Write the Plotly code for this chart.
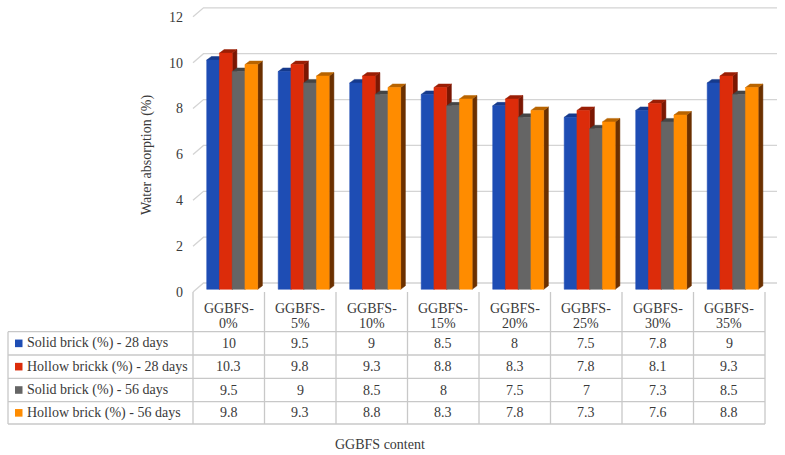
import plotly.graph_objects as go

# ---------------- data ----------------
categories = ["GGBFS-0%", "GGBFS-5%", "GGBFS-10%", "GGBFS-15%",
              "GGBFS-20%", "GGBFS-25%", "GGBFS-30%", "GGBFS-35%"]
series_names = ["Solid brick (%) - 28 days", "Hollow brickk (%) - 28 days",
                "Solid brick (%) - 56 days", "Hollow brick (%) - 56 days"]
solid_28 = [10, 9.5, 9, 8.5, 8, 7.5, 7.8, 9]
hollow_28 = [10.3, 9.8, 9.3, 8.8, 8.3, 7.8, 8.1, 9.3]
solid_56 = [9.5, 9, 8.5, 8, 7.5, 7, 7.3, 8.5]
hollow_56 = [9.8, 9.3, 8.8, 8.3, 7.8, 7.3, 7.6, 8.8]
y_ticks = [0, 2, 4, 6, 8, 10, 12]

series_values = [solid_28, hollow_28, solid_56, hollow_56]

# ---------------- style ----------------
W, H = 785, 455
FONT = "Liberation Serif"
TXT = "#3a3a3a"
front_colors = ["#1E4DB4", "#DC2C0A", "#656565", "#FF8C00"]
top_colors = ["#163A8C", "#9A1E05", "#454545", "#B86400"]
side_colors = ["#0F2764", "#7A1703", "#333333", "#6B3000"]

PXX, X0PX = 71.5, 228.75      # px per category unit, px of category 0 centre
PXY, Y0PX = 22.93, 289.3      # px per value unit, px of value 0 (bar base)
x_range = [(0 - X0PX) / PXX, (W - X0PX) / PXX]
y_range = [(Y0PX - H) / PXY, Y0PX / PXY]

GX0 = -22.05 / PXX   # group start offset
BW = 12.75 / PXX     # bar width
DX = 4.7 / PXX       # depth x
DY = 3.5 / PXY       # depth y

fig = go.Figure()

# gridlines (3D wall style)
gx, gy = [], []
front_dy = -2.7 / PXY
back_dy = 6.3 / PXY
for v in y_ticks:
    gx += [-0.5, (203.5 - X0PX) / PXX, (777 - X0PX) / PXX, None]
    gy += [v + front_dy, v + back_dy, v + back_dy, None]
fig.add_trace(go.Scatter(x=gx, y=gy, mode="lines",
                         line=dict(color="#d4d4d4", width=1.3),
                         hoverinfo="skip", showlegend=False))

# 3D bars
n = len(categories)
for s, vals in enumerate(series_values):
    fx, fy, tx, ty, sx, sy = [], [], [], [], [], []
    for i in range(n):
        v = vals[i]
        xl = i + GX0 + s * BW
        xr = xl + BW
        sx += [xr, xr + DX, xr + DX, xr, xr, None]
        sy += [0, DY, v + DY, v, 0, None]
        tx += [xl, xr, xr + DX, xl + DX, xl, None]
        ty += [v, v, v + DY, v + DY, v, None]
        fx += [xl, xr, xr, xl, xl, None]
        fy += [0, 0, v, v, 0, None]
    for xs, ys, col in ((sx, sy, side_colors[s]), (tx, ty, top_colors[s]),
                        (fx, fy, front_colors[s])):
        fig.add_trace(go.Scatter(x=xs, y=ys, mode="lines", fill="toself",
                                 fillcolor=col, line=dict(color=col, width=0.5),
                                 hoverinfo="skip", showlegend=False,
                                 name=series_names[s]))

# ---------------- table ----------------
def px(x):
    return x / W


def py(y):
    return 1 - y / H


def label(x, y, text, xanchor="center", angle=0):
    return dict(x=px(x), y=py(y), xref="paper", yref="paper", text=text,
                showarrow=False, xanchor=xanchor, yanchor="middle",
                textangle=angle, font=dict(family=FONT, size=14, color=TXT))


shapes = []
annotations = []
LC = "#c8c8c8"
LW = 1.3
col_edges = [193 + PXX * i for i in range(n + 1)]
header_top = 292
row_lines = [331.7, 355, 378.3, 401.7, 424]
left_x = 8

for xe in col_edges:
    shapes.append(dict(type="line", xref="paper", yref="paper",
                       x0=px(xe), x1=px(xe), y0=py(header_top), y1=py(row_lines[-1]),
                       line=dict(color=LC, width=LW)))
shapes.append(dict(type="line", xref="paper", yref="paper",
                   x0=px(left_x), x1=px(left_x), y0=py(row_lines[0]), y1=py(row_lines[-1]),
                   line=dict(color=LC, width=LW)))
for yl in row_lines:
    shapes.append(dict(type="line", xref="paper", yref="paper",
                       x0=px(left_x), x1=px(col_edges[-1]), y0=py(yl), y1=py(yl),
                       line=dict(color=LC, width=LW)))

# header
for i, c in enumerate(categories):
    cx = (col_edges[i] + col_edges[i + 1]) / 2
    head, pct = c.split("-")
    annotations.append(label(cx, 308, head + "-"))
    annotations.append(label(cx, 323, pct))

# rows
for r, (name, vals) in enumerate(zip(series_names, series_values)):
    cy = (row_lines[r] + row_lines[r + 1]) / 2
    shapes.append(dict(type="rect", xref="paper", yref="paper",
                       x0=px(15), x1=px(22.5), y0=py(cy - 3.8), y1=py(cy + 3.8),
                       fillcolor=front_colors[r], line=dict(width=0)))
    annotations.append(label(25, cy, name, xanchor="left"))
    for i, v in enumerate(vals):
        cx = (col_edges[i] + col_edges[i + 1]) / 2
        annotations.append(label(cx, cy, f"{v:g}"))

# axis titles
annotations.append(label(147, 155, "Water absorption (%)", angle=-90))
annotations.append(label(380, 444, "GGBFS content"))

fig.update_layout(
    width=W, height=H, margin=dict(l=0, r=0, t=0, b=0),
    paper_bgcolor="white", plot_bgcolor="white",
    showlegend=False, shapes=shapes, annotations=annotations,
    xaxis=dict(range=x_range, domain=[0, 1], visible=False, fixedrange=True),
    yaxis=dict(range=y_range, domain=[0, 1], anchor="free", position=193 / W,
               tickvals=[v + front_dy for v in y_ticks],
               ticktext=[str(v) for v in y_ticks],
               showgrid=False, zeroline=False, showline=False, ticks="",
               ticklabelstandoff=10,
               tickfont=dict(family=FONT, size=14, color=TXT), fixedrange=True),
)

fig.write_html("out.html")
